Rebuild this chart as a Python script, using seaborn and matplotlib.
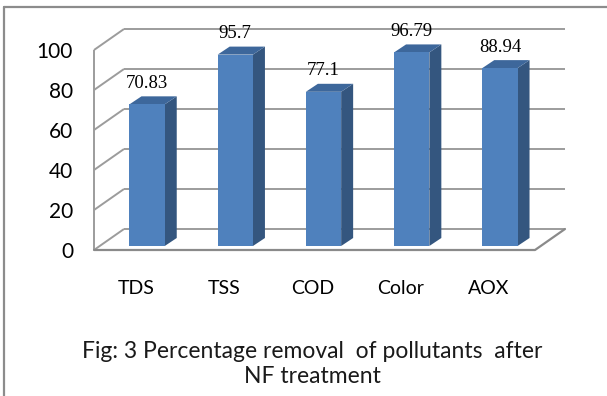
import matplotlib
matplotlib.use("Agg")
import matplotlib.pyplot as plt
import matplotlib.transforms as mtransforms
from matplotlib.lines import Line2D
from matplotlib.patches import Polygon
import seaborn as sns
import pandas as pd

# Percentage removal of each pollutant after NF treatment
categories = ["TDS", "TSS", "COD", "Color", "AOX"]
removal = [70.83, 95.7, 77.1, 96.79, 88.94]
y_ticks = [0, 20, 40, 60, 80, 100]
caption = "Fig: 3 Percentage removal  of pollutants  after\nNF treatment"

sns.set_theme(style="white")
plt.rcParams["font.family"] = ["Lato", "DejaVu Sans"]

W, H, DPI = 607, 396, 100
fig = plt.figure(figsize=(W / DPI, H / DPI), dpi=DPI)
fig.patch.set_facecolor("white")

# axes = front plane of the bars (pixel box of the plotting area)
left_px, right_px, top_px, bottom_px = 103, 544, 46, 246
ax = fig.add_axes([left_px / W, (H - bottom_px) / H,
                   (right_px - left_px) / W, (bottom_px - top_px) / H])

df = pd.DataFrame({"pollutant": categories, "removal": removal})
sns.barplot(data=df, x="pollutant", y="removal", color="#4F81BD",
            saturation=1, width=0.4, ax=ax, zorder=3)

xmin, xmax = -0.5, len(categories) - 0.5
ax.set_xlim(xmin, xmax)
ax.set_ylim(0, 100)
ax.set_xlabel("")
ax.set_ylabel("")
ax.patch.set_visible(False)
for s in ax.spines.values():
    s.set_visible(False)

# pixel -> data conversions for the pseudo-3D depth offsets
sx = (xmax - xmin) / (right_px - left_px)
sy = 100 / (bottom_px - top_px)

def shift(x, y, dx_px, dy_px):
    """Move a data point by a pixel offset (image coords: +dy is down)."""
    return x + dx_px * sx, y - dy_px * sy

front = (-9, 4)    # front edge of the floor / side wall
back = (21, -17)   # back wall
depth = (12, -8)   # depth of each column

grid_kw = dict(color="#9c9c9c", lw=1.4, zorder=1, clip_on=False,
               solid_capstyle="butt")

# back wall gridlines and side wall diagonals
for v in y_ticks:
    bx0, by = shift(xmin, v, *back)
    bx1, _ = shift(xmax, v, *back)
    ax.add_line(Line2D([bx0, bx1], [by, by], **grid_kw))
    fx, fy = shift(xmin, v, *front)
    ax.add_line(Line2D([fx, bx0], [fy, by], **grid_kw))

# front edge of the side wall
fx, fy0 = shift(xmin, 0, *front)
_, fy1 = shift(xmin, 100, *front)
ax.add_line(Line2D([fx, fx], [fy0, fy1], **grid_kw))

# floor outline
fxr, fyr = shift(xmax, 0, *front)
bxr, byr = shift(xmax, 0, *back)
ax.add_line(Line2D([fx, fxr, bxr], [fy0, fyr, byr],
                   color="#8a8a8a", lw=1.6, zorder=1, clip_on=False))

# side and top faces of the columns
ddx, ddy = depth[0] * sx, -depth[1] * sy
for p in ax.patches[:len(categories)]:
    x0, w, h = p.get_x(), p.get_width(), p.get_height()
    x1 = x0 + w
    side = Polygon([(x1, 0), (x1 + ddx, ddy), (x1 + ddx, h + ddy), (x1, h)],
                   closed=True, facecolor="#34567f", edgecolor="none",
                   zorder=2.5, clip_on=False)
    top = Polygon([(x0, h), (x1, h), (x1 + ddx, h + ddy), (x0 + ddx, h + ddy)],
                  closed=True, facecolor="#3d679b", edgecolor="none",
                  zorder=2.5, clip_on=False)
    ax.add_patch(side)
    ax.add_patch(top)
    p.set_edgecolor("none")

# value labels above each column
for p, v in zip(ax.patches[:len(categories)], removal):
    ax.annotate(f"{v:g}", (p.get_x() + p.get_width() / 2, p.get_height()),
                xytext=(0, 21 * 72 / DPI), textcoords="offset points",
                ha="center", va="center", fontsize=13.5,
                family=["Liberation Serif", "DejaVu Serif"], color="#000000",
                zorder=4, annotation_clip=False)

# y tick labels sit on the front edge of the side wall
ax.set_yticks(y_ticks)
ax.tick_params(axis="y", length=0, pad=30 * 72 / DPI, labelsize=15,
               labelcolor="#000000")
for lab in ax.get_yticklabels():
    lab.set_transform(lab.get_transform() +
                      mtransforms.ScaledTranslation(0, -4 / DPI, fig.dpi_scale_trans))

# category labels in front of the floor
ax.tick_params(axis="x", length=0, pad=43 * 72 / DPI, labelsize=14,
               labelcolor="#000000")
for lab in ax.get_xticklabels():
    lab.set_verticalalignment("center")
    lab.set_transform(lab.get_transform() +
                      mtransforms.ScaledTranslation(-11 / DPI, 0, fig.dpi_scale_trans))

fig.text(312 / W, 1 - 364 / H, caption, ha="center", va="center",
         fontsize=16.5, linespacing=1.2, color="#1a1a1a")

# frame lines along the top and left of the figure
fig.add_artist(Line2D([4 / W, 4 / W], [0, 1 - 7 / H], transform=fig.transFigure,
                      color="#8c8c8c", lw=1.6))
fig.add_artist(Line2D([4 / W, 1], [1 - 7 / H, 1 - 7 / H], transform=fig.transFigure,
                      color="#8c8c8c", lw=1.6))

fig.savefig("out.png", dpi=DPI, facecolor="white")
